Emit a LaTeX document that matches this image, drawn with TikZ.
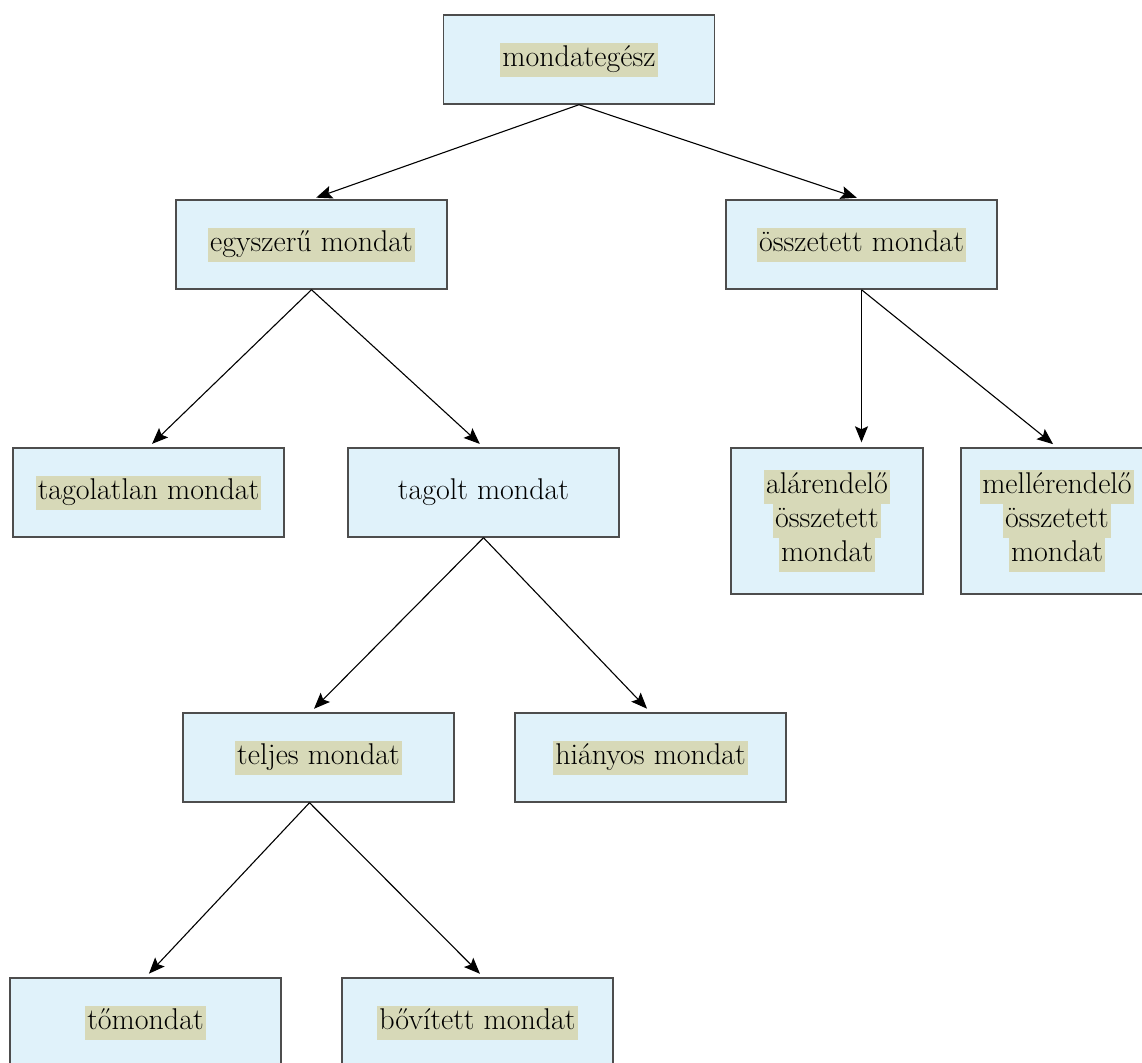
\documentclass[tikz,border=0pt]{standalone}
\usepackage{fontspec}
\usepackage[x11names]{xcolor}
\usepackage{tikz}
\usetikzlibrary{shapes,arrows.meta,positioning,calc}

\definecolor{boxblue}{HTML}{E0F2FA}
\definecolor{boxline}{HTML}{4D4D4D}
\definecolor{hlkhaki}{HTML}{D7D9B8}

% highlighted word, one line
\newcommand{\hlword}[1]{{\setlength{\fboxsep}{0pt}\colorbox{hlkhaki}{\strut\kern1pt #1\kern1pt}}}

\begin{document}
\begin{tikzpicture}[x=0.5pt,y=-0.5pt,
    box/.style={draw=boxline, line width=0.7pt, fill=boxblue, minimum width=135.5pt, minimum height=44.5pt, inner sep=0pt, align=center, font=\fontsize{15}{17}\selectfont},
    tallbox/.style={box, minimum width=96pt, minimum height=73pt},
    arr/.style={-{Stealth[length=8pt,width=6.5pt,inset=1.5pt]}, line width=0.55pt, shorten >=2.5pt}]

    \useasboundingbox (0,0) rectangle (1142,1062);

    % Top
    \node[box] (mondategesz) at (579,59.5) {\hlword{mondategész}};

    % Second level
    \node[box] (egyszeru) at (311.5,244.5) {\hlword{egyszerű mondat}};
    \node[box] (osszetett) at (861.5,244.5) {\hlword{összetett mondat}};

    % Third level
    \node[box] (tagolatlan) at (148.5,492.5) {\hlword{tagolatlan mondat}};
    \node[box] (tagolt) at (483.5,492.5) {tagolt mondat};
    \node[tallbox] (alarendelo) at (827,521) {\hlword{alárendelő}\\\hlword{összetett}\\\hlword{mondat}};
    \node[tallbox] (mellerendelo) at (1057,521) {\hlword{mellérendelő}\\\hlword{összetett}\\\hlword{mondat}};

    % Fourth level
    \node[box] (teljes) at (318.5,757.5) {\hlword{teljes mondat}};
    \node[box] (hianyos) at (650.5,757.5) {\hlword{hiányos mondat}};

    % Bottom
    \node[box] (tomondat) at (145.5,1022.5) {\hlword{tőmondat}};
    \node[box] (bovitett) at (477.5,1022.5) {\hlword{bővített mondat}};

    % Arrows
    \draw[arr] (mondategesz.south) -- (egyszeru.north);
    \draw[arr] (mondategesz.south) -- (osszetett.north);
    \draw[arr] (egyszeru.south) -- (tagolatlan.north);
    \draw[arr] (egyszeru.south) -- (tagolt.north);
    \draw[arr] (osszetett.south) -- (osszetett.south |- alarendelo.north);
    \draw[arr] (osszetett.south) -- (mellerendelo.north);
    \draw[arr] (tagolt.south) -- ([xshift=-4pt]teljes.north);
    \draw[arr] (tagolt.south) -- (hianyos.north);
    \draw[arr] ([xshift=-4.5pt]teljes.south) -- (tomondat.north);
    \draw[arr] ([xshift=-4.5pt]teljes.south) -- ([xshift=3pt]bovitett.north);

\end{tikzpicture}
\end{document}
